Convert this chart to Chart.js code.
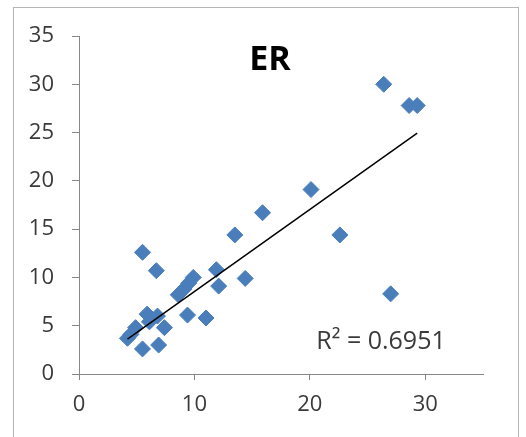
<!DOCTYPE html>
<html>
<head>
<meta charset="utf-8">
<script src="https://cdn.jsdelivr.net/npm/chart.js@4/dist/chart.umd.min.js"></script>
<style>
  html, body { margin: 0; padding: 0; background: #fff; }
  #wrap { width: 526px; height: 437px; }
</style>
</head>
<body>
<div id="wrap"><canvas id="erChart" width="526" height="437"></canvas></div>
<script>
// data
const erX = [4.2, 4.5, 4.9, 5.5, 5.9, 6.1, 6.8, 6.9, 7.4, 5.5, 6.7, 8.6, 9.1, 9.5, 9.9, 9.4, 11.0, 11.9, 12.1, 13.5, 14.4, 15.9, 20.1, 22.6, 26.4, 28.6, 29.3, 27.0];
const erY = [3.7, 4.1, 4.8, 2.6, 6.2, 5.4, 6.0, 3.0, 4.8, 12.6, 10.7, 8.2, 8.8, 9.4, 10.0, 6.1, 5.8, 10.8, 9.1, 14.4, 9.9, 16.7, 19.1, 14.4, 30.0, 27.8, 27.8, 8.3];
// linear trendline ends, as drawn in the picture
const trendX = [4.2, 29.3];
const trendY = [3.6, 24.95];
const xTicks = [0, 10, 20, 30];
const yTicks = [0, 5, 10, 15, 20, 25, 30, 35];
const chartTitle = "ER";
const r2Label = "R² = 0.6951";

const axisGray = "#878787";
const labelGray = "#3a3a3a";
const font = "'Open Sans', 'DejaVu Sans', sans-serif";

const points = erX.map((x, i) => ({ x: x, y: erY[i] }));
const trend = trendX.map((x, i) => ({ x: x, y: trendY[i] }));

// frame, title and R² text
const decorPlugin = {
  id: "decor",
  beforeDraw(chart) {
    const ctx = chart.ctx;
    ctx.save();
    ctx.fillStyle = "#fff";
    ctx.fillRect(0, 0, chart.width, chart.height);
    ctx.strokeStyle = "#b5b5b5";
    ctx.lineWidth = 1;
    ctx.strokeRect(13.5, 7.5, 505, 440);
    ctx.restore();
  },
  afterDraw(chart) {
    const ctx = chart.ctx;
    ctx.save();
    ctx.fillStyle = "#000";
    ctx.font = "bold 34px " + font;
    ctx.textAlign = "center";
    ctx.textBaseline = "middle";
    ctx.fillText(chartTitle, 270, 60);
    ctx.fillStyle = labelGray;
    ctx.font = "25px " + font;
    ctx.fillText(r2Label, 381, 342);
    ctx.restore();
  }
};

new Chart(document.getElementById("erChart").getContext("2d"), {
  type: "scatter",
  data: {
    datasets: [
      {
        label: "ER",
        data: points,
        pointStyle: "rectRot",
        pointRadius: 8,
        backgroundColor: "#4a7ebb",
        borderColor: "#4a7ebb",
        borderWidth: 1,
        order: 2
      },
      {
        label: "Linear",
        type: "line",
        data: trend,
        borderColor: "#000",
        borderWidth: 1.5,
        pointRadius: 0,
        fill: false,
        order: 1
      }
    ]
  },
  options: {
    responsive: false,
    animation: false,
    layout: { padding: { left: 0, top: 36, right: 43, bottom: 0 } },
    plugins: {
      legend: { display: false },
      tooltip: { enabled: false },
      title: { display: false }
    },
    scales: {
      x: {
        type: "linear",
        min: 0,
        max: 35,
        afterBuildTicks: (scale) => { scale.ticks = xTicks.map(v => ({ value: v })); },
        afterFit: (scale) => { scale.height = 63; },
        grid: { display: true, drawOnChartArea: false, drawTicks: true, tickLength: 6, color: axisGray },
        border: { display: true, color: axisGray, width: 1 },
        ticks: { color: labelGray, font: { family: font, size: 22 }, padding: 12, maxRotation: 0 }
      },
      y: {
        type: "linear",
        min: 0,
        max: 35,
        afterBuildTicks: (scale) => { scale.ticks = yTicks.map(v => ({ value: v })); },
        afterFit: (scale) => { scale.width = 79; },
        grid: { display: true, drawOnChartArea: false, drawTicks: true, tickLength: 7, color: axisGray },
        border: { display: true, color: axisGray, width: 1 },
        ticks: { color: labelGray, font: { family: font, size: 22 }, padding: 18 }
      }
    }
  },
  plugins: [decorPlugin]
});
</script>
</body>
</html>
